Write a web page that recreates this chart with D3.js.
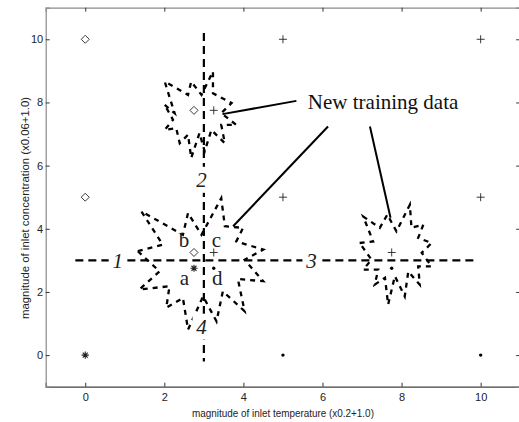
<!DOCTYPE html>
<html><head><meta charset="utf-8">
<script src="https://cdn.jsdelivr.net/npm/d3@7"></script>
<style>
body{margin:0;background:#fff;}
svg{display:block;}
.tick text{font-family:"Liberation Sans","Arial",sans-serif;font-size:11px;fill:#222;}
</style></head>
<body><svg id="chart" width="519" height="422"></svg>
<script>
// ---- data ----
const xTicks = [0, 2, 4, 6, 8, 10];
const yTicks = [0, 2, 4, 6, 8, 10];
const diamonds = [[0,10],[0,5],[2.75,7.75],[2.75,3.25]];
const pluses = [[5,10],[10,10],[5,5],[10,5],[3.25,7.75],[3.25,3.25],[7.75,3.25]];
const asterisks = [[0,0],[2.75,2.75]];
const dots = [[5,0],[10,0],[3.25,2.75],[7.75,2.75]];
const starTop = [[2.01,7.92],[2.26,7.66],[2.01,8.66],[2.60,8.24],[2.68,8.66],[2.94,8.24],[3.23,8.98],[3.23,8.29],[3.70,7.98],[3.44,7.66],[3.82,7.29],[3.44,7.29],[3.53,6.71],[3.19,7.13],[3.02,6.45],[2.89,7.03],[2.68,6.24],[2.60,6.98],[2.39,6.71],[2.30,7.19],[2.01,7.13],[2.22,7.45]];
const starCenter = [[1.33,3.29],[1.96,3.50],[1.42,4.55],[2.47,3.81],[2.60,4.50],[2.94,3.81],[3.44,4.97],[3.53,4.08],[3.99,4.03],[3.82,3.60],[4.50,3.34],[4.03,3.02],[4.50,2.34],[3.86,2.41],[4.03,1.39],[3.48,2.02],[3.32,1.07],[2.98,1.86],[2.60,0.81],[2.47,1.81],[2.05,1.50],[2.13,2.18],[1.37,2.08],[1.88,2.65]];
const starRight = [[6.94,3.55],[7.28,3.60],[7.03,4.39],[7.45,4.03],[7.64,4.45],[7.87,3.92],[8.21,4.76],[8.25,4.03],[8.55,4.13],[8.42,3.71],[8.76,3.55],[8.51,3.24],[8.76,2.81],[8.42,2.81],[8.46,2.23],[8.17,2.65],[8.08,1.86],[7.83,2.50],[7.66,1.60],[7.58,2.45],[7.32,2.23],[7.41,2.71],[7.03,2.71],[7.24,3.02]];
const dirLines = [[[-0.25,3],[9.9,3]], [[3,10.2],[3,-0.2]]];
const dirLabels = [{t:"1",x:0.82,y:3},{t:"2",x:2.94,y:5.55},{t:"3",x:5.72,y:3},{t:"4",x:2.94,y:0.9}];
const quadLabels = [{t:"a",x:2.51,y:2.45},{t:"b",x:2.50,y:3.66},{t:"c",x:3.32,y:3.66},{t:"d",x:3.34,y:2.46}];
const annoText = {t:"New training data", x:5.63, y:7.8};
const annoLines = [[[5.34,8.05],[3.47,7.63]], [[6.14,7.24],[3.74,4.08]], [[7.20,7.24],[7.72,4.35]]];
const xLabel = "magnitude of inlet temperature (x0.2+1.0)";
const yLabel = "magnitude of inlet concentration (x0.06+1.0)";

// ---- chart ----
const svg = d3.select("#chart");
svg.append("rect").attr("width",519).attr("height",422).attr("fill","#fff");
const L = 45.7, R = 520.2, T = 7.7, B = 386.7;
const x = d3.scaleLinear().domain([-1,11]).range([L,R]);
const y = d3.scaleLinear().domain([-1,11]).range([B,T]);
const sans = '"Liberation Sans","Arial",sans-serif';
const serif = '"Liberation Serif","Times New Roman",serif';

// axes
const gB = svg.append("g").attr("transform",`translate(0,${B})`)
  .call(d3.axisBottom(x).tickValues(xTicks).tickSize(-4).tickPadding(7).tickFormat(d3.format("d")));
const gT = svg.append("g").attr("transform",`translate(0,${T})`)
  .call(d3.axisTop(x).tickValues(xTicks).tickSize(-4).tickFormat(""));
const gL = svg.append("g").attr("transform",`translate(${L},0)`)
  .call(d3.axisLeft(y).tickValues(yTicks).tickSize(-4).tickPadding(2.5).tickFormat(d3.format("d")));
const gR = svg.append("g").attr("transform",`translate(${R},0)`)
  .call(d3.axisRight(y).tickValues(yTicks).tickSize(-4).tickFormat(""));
[gB,gT,gL,gR].forEach(g=>{g.selectAll(".tick line").attr("stroke","#333");});
gB.select(".domain").attr("stroke","#404040").attr("stroke-width",1.2);
[gT,gL,gR].forEach(g=>g.select(".domain").attr("stroke","#8a8a8a").attr("stroke-width",1.2));

// axis labels
svg.append("text").attr("x",(L+R)/2).attr("y",417).attr("text-anchor","middle")
  .attr("font-family",sans).attr("font-size",11).attr("fill","#222")
  .attr("textLength",182).attr("lengthAdjust","spacingAndGlyphs").text(xLabel);
svg.append("text").attr("transform",`translate(29,208) rotate(-90)`).attr("text-anchor","middle")
  .attr("font-family",sans).attr("font-size",11).attr("fill","#222")
  .attr("textLength",222).attr("lengthAdjust","spacingAndGlyphs").text(yLabel);

const line = d3.line().x(d=>x(d[0])).y(d=>y(d[1]));

// star polygons
const area = svg.append("g");
[starTop, starCenter, starRight].forEach(s=>{
  area.append("path").attr("d", line(s.concat([s[0]])))
    .attr("fill","none").attr("stroke","#000").attr("stroke-width",2.3)
    .attr("stroke-dasharray","5,5");
});

// direction lines
dirLines.forEach(l=>{
  svg.append("path").attr("d",line(l)).attr("fill","none").attr("stroke","#000")
    .attr("stroke-width",2.2).attr("stroke-dasharray","8,5");
});

// direction labels with white background
dirLabels.forEach(d=>{
  const g = svg.append("g").attr("transform",`translate(${x(d.x)},${y(d.y)})`);
  g.append("rect").attr("x",-9).attr("y",-13).attr("width",18).attr("height",26).attr("fill","#fff");
  g.append("text").attr("text-anchor","middle").attr("dy","0.35em")
    .attr("font-family",serif).attr("font-style","italic")
    .attr("font-size",21).attr("fill","#222").text(d.t);
});

// quadrant labels
quadLabels.forEach(d=>{
  svg.append("text").attr("x",x(d.x)).attr("y",y(d.y)).attr("text-anchor","middle").attr("dy","0.35em")
    .attr("font-family",serif).attr("font-size",21).attr("fill","#222").text(d.t);
});

// markers
const mk = svg.append("g").attr("stroke","#222").attr("fill","none").attr("stroke-width",0.9);
diamonds.forEach(d=>{
  const cx=x(d[0]), cy=y(d[1]), r=4;
  mk.append("path").attr("d",`M${cx},${cy-r}L${cx+r},${cy}L${cx},${cy+r}L${cx-r},${cy}Z`);
});
pluses.forEach(d=>{
  const cx=x(d[0]), cy=y(d[1]), r=4;
  mk.append("path").attr("d",`M${cx-r},${cy}H${cx+r}M${cx},${cy-r}V${cy+r}`);
});
asterisks.forEach(d=>{
  const cx=x(d[0]), cy=y(d[1]), r=3.6, q=2.5;
  mk.append("path").attr("stroke-width",1.1)
    .attr("d",`M${cx-r},${cy}H${cx+r}M${cx},${cy-r}V${cy+r}M${cx-q},${cy-q}L${cx+q},${cy+q}M${cx-q},${cy+q}L${cx+q},${cy-q}`);
});
dots.forEach(d=>{
  svg.append("circle").attr("cx",x(d[0])).attr("cy",y(d[1])).attr("r",1.7).attr("fill","#000");
});

// annotation
annoLines.forEach(l=>{
  svg.append("path").attr("d",line(l)).attr("stroke","#000").attr("stroke-width",2).attr("fill","none");
});
svg.append("text").attr("x",x(annoText.x)).attr("y",y(annoText.y))
  .attr("font-family",serif).attr("font-size",21).attr("fill","#111").text(annoText.t);
</script></body></html>
